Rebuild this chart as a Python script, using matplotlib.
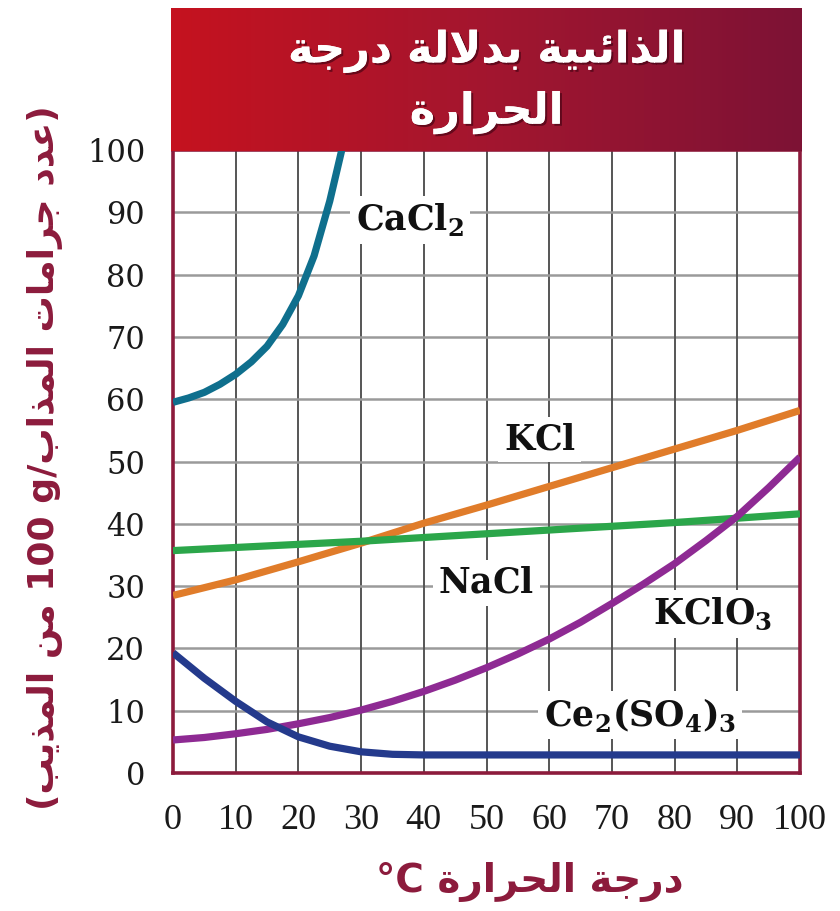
import numpy as np
import matplotlib
matplotlib.use('Agg')
import matplotlib.pyplot as plt
import matplotlib.patheffects as pe
from matplotlib.colors import LinearSegmentedColormap

# --- data ---
temp = [0, 10, 20, 30, 40, 50, 60, 70, 80, 90, 100]
kcl = [28.5, 31.0, 33.9, 36.9, 40.1, 43.0, 46.0, 49.0, 52.0, 55.0, 58.2]
nacl = [35.7, 36.2, 36.7, 37.2, 37.8, 38.4, 39.0, 39.6, 40.2, 40.9, 41.6]

temp5 = [0, 5, 10, 15, 20, 25, 30, 35, 40, 45, 50, 55, 60, 65, 70, 75, 80, 85, 90, 95, 100]
kclo3 = [5.3, 5.7, 6.3, 7.0, 7.9, 8.9, 10.1, 11.5, 13.1, 14.9, 16.9, 19.1, 21.5, 24.2,
         27.2, 30.3, 33.6, 37.3, 41.2, 45.8, 50.7]
ce2so43 = [19.3, 15.2, 11.5, 8.2, 5.8, 4.3, 3.4, 3.0, 2.9, 2.9, 2.9, 2.9, 2.9, 2.9,
           2.9, 2.9, 2.9, 2.9, 2.9, 2.9, 2.9]

cacl2_t = [0, 2.5, 5, 7.5, 10, 12.5, 15, 17.5, 20, 22.5, 25, 27.5]
cacl2 = [59.5, 60.2, 61.1, 62.4, 64.0, 66.0, 68.5, 72.0, 76.6, 83.0, 91.8, 102.5]

series = [
    ('CaCl2', cacl2_t, cacl2, '#0f6f8d'),
    ('KCl', temp, kcl, '#e07c2a'),
    ('NaCl', temp, nacl, '#2ba64a'),
    ('KClO3', temp5, kclo3, '#8e2a93'),
    ('Ce2(SO4)3', temp5, ce2so43, '#243a8c'),
]

labels = {
    'CaCl2': (r'$\mathbf{CaCl}_{\mathbf{2}}$', 37.8, 88.8),
    'KCl': (r'$\mathbf{KCl}$', 58.5, 53.5),
    'NaCl': (r'$\mathbf{NaCl}$', 50, 30.5),
    'KClO3': (r'$\mathbf{KClO}_{\mathbf{3}}$', 86, 25.5),
    'Ce2(SO4)3': (r'$\mathbf{Ce}_{\mathbf{2}}\mathbf{(SO}_{\mathbf{4}}\mathbf{)}_{\mathbf{3}}$', 74.5, 9.3),
}

# --- simple arabic shaping (presentation forms) + reversal for display ---
FORMS = {
    'ا': ('\uFE8D', '\uFE8E'),
    'ئ': ('\uFE89', '\uFE8A', '\uFE8B', '\uFE8C'),
    'ب': ('\uFE8F', '\uFE90', '\uFE91', '\uFE92'),
    'ة': ('\uFE93', '\uFE94'),
    'ت': ('\uFE95', '\uFE96', '\uFE97', '\uFE98'),
    'ج': ('\uFE9D', '\uFE9E', '\uFE9F', '\uFEA0'),
    'ح': ('\uFEA1', '\uFEA2', '\uFEA3', '\uFEA4'),
    'د': ('\uFEA9', '\uFEAA'),
    'ذ': ('\uFEAB', '\uFEAC'),
    'ر': ('\uFEAD', '\uFEAE'),
    'ع': ('\uFEC9', '\uFECA', '\uFECB', '\uFECC'),
    'ل': ('\uFEDD', '\uFEDE', '\uFEDF', '\uFEE0'),
    'م': ('\uFEE1', '\uFEE2', '\uFEE3', '\uFEE4'),
    'ن': ('\uFEE5', '\uFEE6', '\uFEE7', '\uFEE8'),
    'ي': ('\uFEF1', '\uFEF2', '\uFEF3', '\uFEF4'),
}


def ar(word):
    out = []
    i = 0
    n = len(word)
    while i < n:
        c = word[i]
        prev = word[i - 1] if i > 0 else None
        joins_prev = prev is not None and len(FORMS.get(prev, ())) == 4
        if c == 'ل' and i + 1 < n and word[i + 1] == 'ا':
            out.append('\uFEFC' if joins_prev else '\uFEFB')
            i += 2
            continue
        f = FORMS[c]
        nxt = word[i + 1] if i + 1 < n else None
        joins_next = len(f) == 4 and nxt in FORMS
        if joins_prev and joins_next:
            out.append(f[3])
        elif joins_prev:
            out.append(f[1])
        elif joins_next:
            out.append(f[2])
        else:
            out.append(f[0])
        i += 1
    return ''.join(reversed(out))


def ar_line(words):
    # words given in reading order, displayed right to left
    return ' '.join(ar(w) for w in reversed(words))


title1 = ar_line(['الذائبية', 'بدلالة', 'درجة'])
title2 = ar('الحرارة')
xlab = '°C ' + ar_line(['درجة', 'الحرارة'])
ylab = '(' + ar('المذيب') + ' ' + ar('من') + ' 100 g/' + ar('المذاب') + ' ' + ar('جرامات') + ' ' + ar('عدد') + ')'

maroon = '#8c1b3c'
arfont = ['DejaVu Sans']

plt.rcParams['mathtext.fontset'] = 'custom'
plt.rcParams['mathtext.bf'] = 'DejaVu Serif:bold'
plt.rcParams['mathtext.rm'] = 'DejaVu Serif'

fig = plt.figure(figsize=(8.4, 9.11), dpi=100)
ax = fig.add_axes([173 / 840, 1 - 773 / 911, 627 / 840, 623 / 911])

for name, xs, ys, col in series:
    ax.plot(xs, ys, color=col, lw=5.2, solid_capstyle='butt', solid_joinstyle='round', zorder=3)

for name, (txt, lx, ly) in labels.items():
    ax.text(lx, ly, txt, fontsize=25, ha='center', va='center', color='#111111', zorder=4,
            bbox=dict(facecolor='white', edgecolor='none', pad=4))

ax.set_xlim(0, 100)
ax.set_ylim(0, 100)
ax.set_xticks(temp)
ax.set_yticks(range(0, 101, 10))
for v in range(10, 100, 10):
    ax.axvline(v, color='#555555', lw=1.4, zorder=1)
    ax.axhline(v, color='#9a9a9a', lw=1.8, zorder=1)
ax.tick_params(length=0)
ax.tick_params(axis='x', pad=22)
ax.tick_params(axis='y', pad=20)
for t in ax.get_xticklabels():
    t.set_fontfamily('Liberation Serif')
    t.set_fontsize(26)
    t.set_color('#1a1a1a')
for t in ax.get_yticklabels():
    t.set_fontfamily('DejaVu Serif')
    t.set_fontsize(22)
    t.set_color('#1a1a1a')
for s in ax.spines.values():
    s.set_color(maroon)
    s.set_linewidth(2.6)

# title box with red gradient
tax = fig.add_axes([171 / 840, 1 - 151 / 911, 631 / 840, 143 / 911])
grad = np.linspace(0, 1, 256)[None, :]
cmap = LinearSegmentedColormap.from_list('t', ['#c5121f', '#a3162f', '#7d1235'])
tax.imshow(grad, aspect='auto', cmap=cmap, extent=[0, 1, 0, 1])
tax.set_xlim(0, 1)
tax.set_ylim(0, 1)
tax.axis('off')
shadow = [pe.withSimplePatchShadow(offset=(1.5, -1.5), shadow_rgbFace='#3a0010', alpha=0.6), pe.Normal()]
tax.text(0.5, 0.70, title1, ha='center', va='center', color='white', fontsize=31,
         fontweight='bold', family=arfont, path_effects=shadow)
tax.text(0.5, 0.27, title2, ha='center', va='center', color='white', fontsize=31,
         fontweight='bold', family=arfont, path_effects=shadow)

fig.text(530 / 840, 1 - 882 / 911, xlab, ha='center', va='center', color=maroon,
         fontsize=28, fontweight='bold', family=arfont)
fig.text(45 / 840, 1 - 458 / 911, ylab, ha='center', va='center', rotation=90, color=maroon,
         fontsize=26, fontweight='bold', family=arfont)

fig.savefig('out.png', dpi=100)
